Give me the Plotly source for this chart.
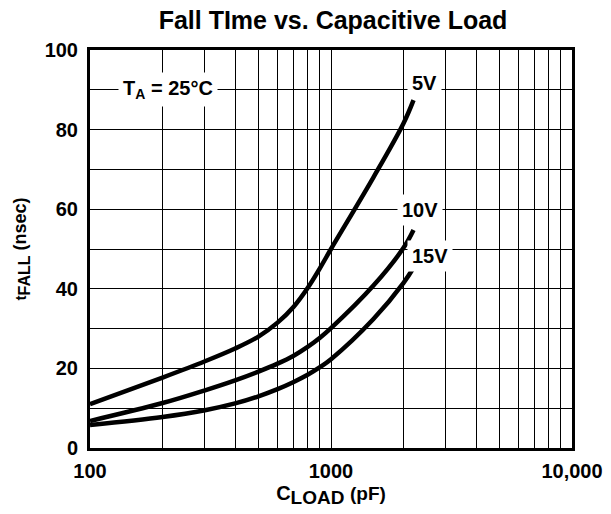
import plotly.graph_objects as go

# ---- data ----
cload_pf = [100, 200, 300, 400, 500, 600, 700, 800, 900, 1000, 1500, 2000, 2200]
tfall_5v = [11.0, 17.7, 21.8, 25.0, 28.0, 31.5, 35.5, 40.2, 45.2, 50.0, 68.0, 81.6, 87.4]
tfall_10v = [6.8, 11.3, 14.5, 17.0, 19.2, 21.2, 23.2, 25.4, 27.7, 30.1, 40.8, 50.3, 54.8]
tfall_15v = [5.8, 7.8, 9.5, 11.2, 13.0, 14.8, 16.6, 18.4, 20.3, 22.3, 32.4, 41.5, 45.3]
series_names = ["5V", "10V", "15V"]

x_tick_vals = [m * 10 ** e for e in (2, 3) for m in range(1, 10)] + [10000]
x_tick_text = ["100" if v == 100 else "1000" if v == 1000 else "10,000" if v == 10000 else "" for v in x_tick_vals]
y_tick_vals = list(range(0, 101, 10))
y_tick_text = [str(v) if v % 20 == 0 else "" for v in y_tick_vals]

FONT = "Liberation Sans, Arial, Helvetica, sans-serif"

# the page body adds an 8px margin, so the figure is 603x506 and sits at (8, 8)
W, H = 603, 506

fig = go.Figure()
for name, ys in zip(series_names, [tfall_5v, tfall_10v, tfall_15v]):
    fig.add_trace(go.Scatter(
        x=cload_pf, y=ys, mode="lines", name=name,
        line=dict(color="black", width=4.5, shape="spline", smoothing=1.0),
        showlegend=False, hoverinfo="skip",
    ))

label_font = dict(family=FONT, size=20, color="black", weight="bold")
# curve labels (boxed in white to break the grid like the original)
for txt, px, yv in [("T<sub>A</sub> = 25°C", 0.162, 90), ("5V", 0.693, 91.8),
                    ("10V", 0.685, 59.8), ("15V", 0.705, 48.3)]:
    fig.add_annotation(x=px, xref="paper", y=yv, yref="y", text=txt,
                       xanchor="center", yanchor="middle",
                       showarrow=False, font=label_font, bgcolor="white", borderpad=4)

fig.update_layout(
    width=W, height=H,
    margin=dict(l=82, r=39, t=42, b=66),
    paper_bgcolor="white", plot_bgcolor="white",
    font=dict(family=FONT, color="black", weight="bold"),
    title=dict(text="Fall TIme vs. Capacitive Load", x=(325 / W), xanchor="center",
               y=1 - 12 / H, yanchor="middle", yref="container",
               font=dict(family=FONT, size=25, color="black", weight="bold")),
    xaxis=dict(
        type="log", range=[2, 4], automargin=False,
        tickmode="array", tickvals=x_tick_vals, ticktext=x_tick_text,
        showgrid=True, gridcolor="black", gridwidth=1,
        showline=True, linecolor="black", linewidth=3, mirror=True,
        ticks="", ticklabelstandoff=3,
        tickfont=dict(family=FONT, size=20, color="black", weight="bold"),
        title=dict(text="C<sub><span style='font-size:19px'>LOAD</span></sub> <span style='font-size:19px'>(pF)</span>",
                   font=dict(family=FONT, size=20, color="black", weight="bold"), standoff=2),
        zeroline=False,
    ),
    yaxis=dict(
        range=[0, 100], automargin=False,
        tickmode="array", tickvals=y_tick_vals, ticktext=y_tick_text,
        showgrid=True, gridcolor="black", gridwidth=1,
        showline=True, linecolor="black", linewidth=3, mirror=True,
        ticks="", ticklabelstandoff=5,
        tickfont=dict(family=FONT, size=20, color="black", weight="bold"),
        title=dict(text="<span style='font-size:15px'>t</span><sub><span style='font-size:16px'>FALL</span></sub> <span style='font-size:18px'>(nsec)</span>",
                   font=dict(family=FONT, size=18, color="black", weight="bold"), standoff=14),
        zeroline=False,
    ),
)

fig.write_html("out.html")
